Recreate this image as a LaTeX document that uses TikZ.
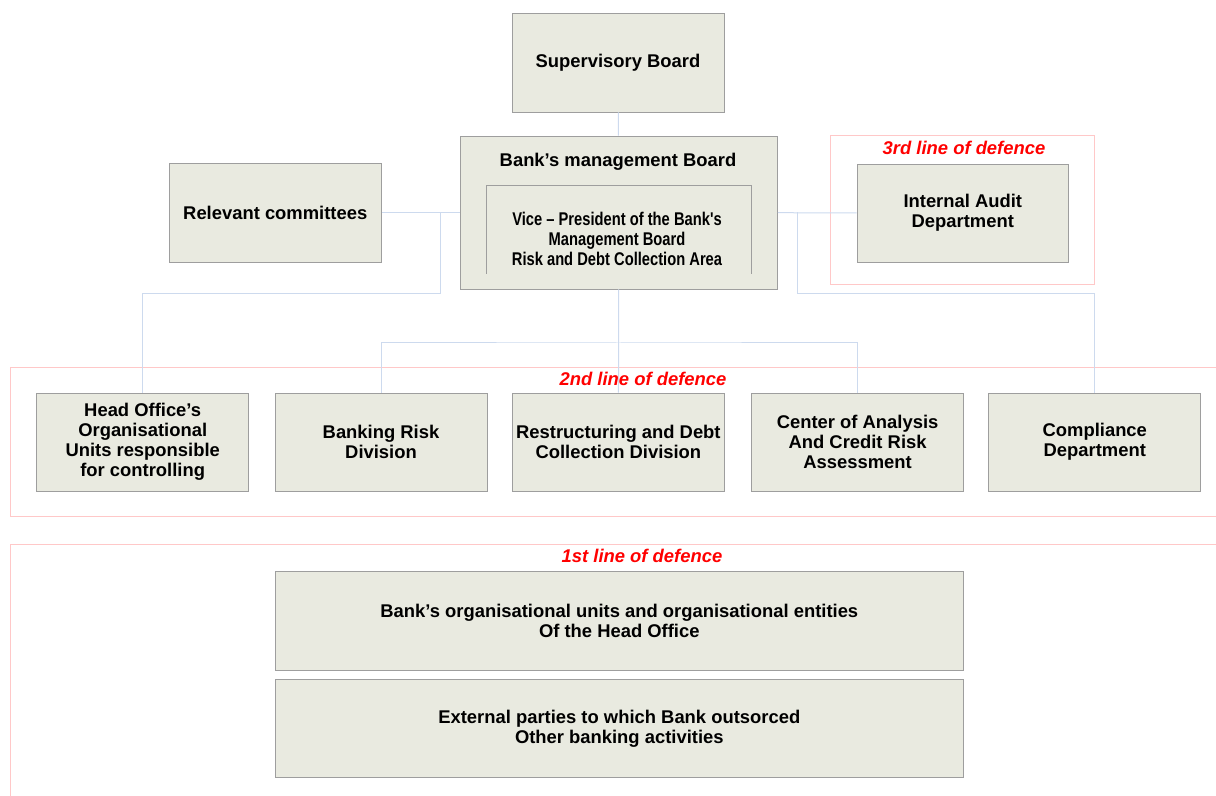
\documentclass[tikz,border=0pt]{standalone}
\usepackage{fontspec}
\setmainfont{Liberation Sans}
\newfontfamily\narrowfont[FakeStretch=0.8]{Liberation Sans}
\usetikzlibrary{positioning}
\definecolor{boxfill}{RGB}{233,234,224}
\definecolor{boxline}{RGB}{158,158,158}
\definecolor{linkblue}{RGB}{205,218,238}
\definecolor{framered}{RGB}{255,200,200}
\tikzset{
	every node/.style = {font=\fontsize{9.2}{10}\selectfont\bfseries, align=center, inner sep=0pt},
	box/.style = {draw=boxline, fill=boxfill, minimum width=106pt, minimum height=49.5pt},
	link/.style = {draw=linkblue, line width=0.5pt},
	frame/.style = {draw=framered, line width=0.5pt},
	defence/.style = {text=red, font=\fontsize{9.2}{10}\selectfont\bfseries\itshape}
}

\begin{document}
\begin{tikzpicture}[x=0.5pt, y=-0.5pt]
	\useasboundingbox (0,0) rectangle (1216,796);
	\clip (0,0) rectangle (1216,796);
	
	% lines of defence
	\draw[frame] (830,136) rectangle (1094.6,285);
	\draw[frame] (10,367.5) rectangle (1230,516.5);
	\draw[frame] (1230,545) -- (10,545) -- (10,810);
	\node[defence] (third) at (964,148) {3rd line of defence};
	\node[defence] (second) at (643,379) {2nd line of defence};
	\node[defence] (first) at (642,556) {1st line of defence};
	
	% top
	\node[box] (sup) at (618,62.5) {Supervisory Board};
	\node[box, minimum width=158.75pt, minimum height=76.5pt] (mgmt) at (618.75,212.5) {};
	\node (mgmttitle) at (618,162) {Bank's management Board};
	\draw[boxline] (486,274) |- (751.5,185) -- (751.5,274);
	\node (vp) at (617,239) {\narrowfont Vice – President of the Bank's\\ \narrowfont Management Board\\ \narrowfont Risk and Debt Collection Area};
	\node[box, minimum width=106.25pt] (rel) at (275.25,212.5) {Relevant committees};
	\node[box, minimum width=105.8pt, minimum height=49pt] (audit) at (962.8,213) {Internal Audit\\Department};
	
	% 2nd line
	\node[box, minimum height=49pt] (head) at (142.7,442) {Head Office's\\Organisational\\Units responsible\\for controlling};
	\node[box, minimum height=49pt] (risk) at (381,442) {Banking Risk\\Division};
	\node[box, minimum height=49pt] (restr) at (618.4,442) {Restructuring and Debt\\Collection Division};
	\node[box, minimum height=49pt] (analysis) at (857.6,442) {Center of Analysis\\And Credit Risk\\Assessment};
	\node[box, minimum height=49pt] (comp) at (1094.8,442) {Compliance\\Department};
	
	% 1st line
	\node[box, minimum width=344.3pt] (units) at (619.3,620.8) {Bank's organisational units and organisational entities\\Of the Head Office};
	\node[box, minimum width=344.3pt, minimum height=49.2pt] (ext) at (619.3,728.5) {External parties to which Bank outsorced\\Other banking activities};
	
	% links
	\coordinate (jl) at (440,212.5);
	\coordinate (jr) at (797,212.5);
	\coordinate (busl) at (142.7,294);
	\coordinate (busr) at (1094.8,294);
	\coordinate (busm) at (618.4,343);
	\draw[link] (sup) -- (mgmt);
	\draw[link] (rel) -- (mgmt);
	\draw[link] (mgmt) -- (audit);
	\draw[link] (jl) |- (busl) -- (head);
	\draw[link] (jr) |- (busr) -- (comp);
	\draw[link] (mgmt) -- (restr);
	\draw[link] (risk) |- (busm) -| (analysis);
\end{tikzpicture}
\end{document}
